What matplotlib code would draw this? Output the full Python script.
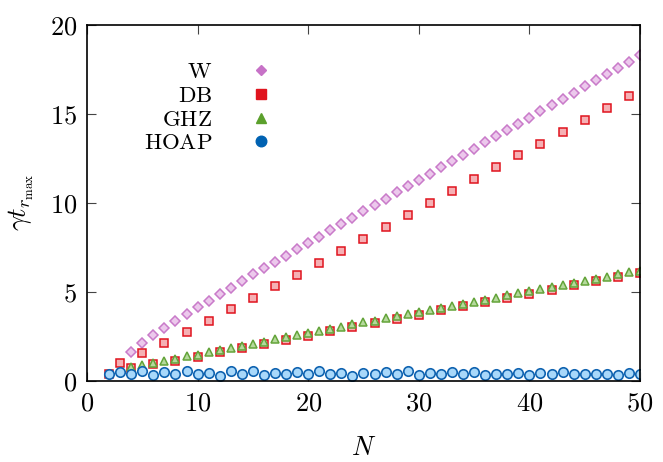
import matplotlib
matplotlib.use("Agg")
import matplotlib.pyplot as plt
from matplotlib.lines import Line2D

plt.rcParams['mathtext.fontset'] = 'cm'
plt.rcParams['font.family'] = 'DejaVu Serif'

# W state: N = 4..50
n_w = list(range(4, 51))
w_vals = [1.61, 2.10, 2.53, 2.95, 3.35, 3.74, 4.12, 4.48, 4.85, 5.22, 5.60, 5.96,
          6.31, 6.67, 7.02, 7.38, 7.73, 8.09, 8.44, 8.80, 9.16, 9.51, 9.87, 10.22,
          10.58, 10.93, 11.28, 11.63, 11.98, 12.33, 12.68, 13.03, 13.38, 13.73,
          14.08, 14.43, 14.78, 15.13, 15.48, 15.83, 16.18, 16.53, 16.88, 17.23,
          17.58, 17.93, 18.28]

# DB state: N = 2..50
n_db = list(range(2, 51))
db_vals = [0.39, 0.99, 0.68, 1.55, 0.91, 2.12, 1.12, 2.74, 1.34, 3.36, 1.61, 4.03,
           1.85, 4.65, 2.07, 5.32, 2.28, 5.94, 2.51, 6.61, 2.79, 7.29, 3.01, 7.96,
           3.24, 8.63, 3.47, 9.30, 3.69, 9.97, 3.97, 10.64, 4.19, 11.31, 4.42,
           11.98, 4.65, 12.65, 4.88, 13.32, 5.10, 13.99, 5.37, 14.66, 5.60, 15.33,
           5.80, 16.00, 6.05]

# GHZ state: N = 4..50
n_ghz = list(range(4, 51))
ghz_vals = [0.75, 0.88, 0.97, 1.11, 1.22, 1.35, 1.46, 1.61, 1.72, 1.85, 1.94, 2.08,
            2.19, 2.32, 2.43, 2.56, 2.68, 2.81, 2.90, 3.03, 3.15, 3.28, 3.37, 3.50,
            3.61, 3.75, 3.86, 3.97, 4.08, 4.21, 4.31, 4.44, 4.55, 4.66, 4.79, 4.93,
            5.02, 5.14, 5.25, 5.37, 5.49, 5.62, 5.73, 5.84, 5.96, 6.08, 6.18]

# HOAP state: N = 2..50
n_hoap = list(range(2, 51))
hoap_vals = [0.39, 0.48, 0.37, 0.52, 0.31, 0.46, 0.35, 0.52, 0.35, 0.44, 0.26, 0.52,
             0.35, 0.52, 0.30, 0.43, 0.34, 0.48, 0.38, 0.51, 0.37, 0.42, 0.27, 0.43,
             0.36, 0.49, 0.37, 0.52, 0.30, 0.40, 0.35, 0.45, 0.36, 0.47, 0.29, 0.39,
             0.39, 0.41, 0.32, 0.43, 0.35, 0.46, 0.35, 0.37, 0.37, 0.37, 0.32, 0.42,
             0.37]

labels = ['W', 'DB', 'GHZ', 'HOAP']
x_ticks = [0, 10, 20, 30, 40, 50]
y_ticks = [0, 5, 10, 15, 20]

fig = plt.figure(figsize=(6.63, 4.62), dpi=100)
ax = fig.add_axes([0.1312, 0.1764, 0.8341, 0.7701])

fs = 19
ax.plot(n_w, w_vals, 'D', ms=4.9, mfc='#ecc8ec', mec='#c97ac9', mew=1.1, ls='none')
ax.plot(n_db, db_vals, 's', ms=6.0, mfc='#f5b0b4', mec='#e0141e', mew=1.1, ls='none')
ax.plot(n_ghz, ghz_vals, '^', ms=6.2, mfc='#b5d99c', mec='#64a43a', mew=1.1, ls='none')
ax.plot(n_hoap, hoap_vals, 'o', ms=6.8, mfc='#a8d8fa', mec='#0f63b0', mew=1.2, ls='none')

handles = [
    Line2D([], [], marker='D', ls='none', ms=5.2, color='#c772c7'),
    Line2D([], [], marker='s', ms=6.6, ls='none', color='#e0141e'),
    Line2D([], [], marker='^', ms=7.2, ls='none', color='#5ba02c'),
    Line2D([], [], marker='o', ms=7.6, ls='none', color='#0062b2'),
]
leg = ax.legend(handles, [r'$\mathrm{%s}$' % s for s in labels],
                loc='upper right', bbox_to_anchor=(0.348, 0.897),
                markerfirst=False, frameon=False, fontsize=16.5,
                handlelength=1.6, handletextpad=1.34, labelspacing=0.07,
                borderpad=0, borderaxespad=0)

ax.set_xlim(0, 50)
ax.set_ylim(0, 20)
ax.set_xticks(x_ticks)
ax.set_yticks(y_ticks)
ax.set_xticklabels([r'$%d$' % t for t in x_ticks], fontsize=fs)
ax.set_yticklabels([r'$%d$' % t for t in y_ticks], fontsize=fs)
ax.tick_params(direction='in', length=6.5, width=0.8, color='#444444',
               top=True, right=True, pad=7)
for sp in ax.spines.values():
    sp.set_linewidth(1.2)

ax.set_xlabel(r'$N$', fontsize=fs, labelpad=14)
ax.set_ylabel(r'$\gamma t_{r_{\max}}$', fontsize=fs, labelpad=10)

fig.savefig('out.png', dpi=100)
